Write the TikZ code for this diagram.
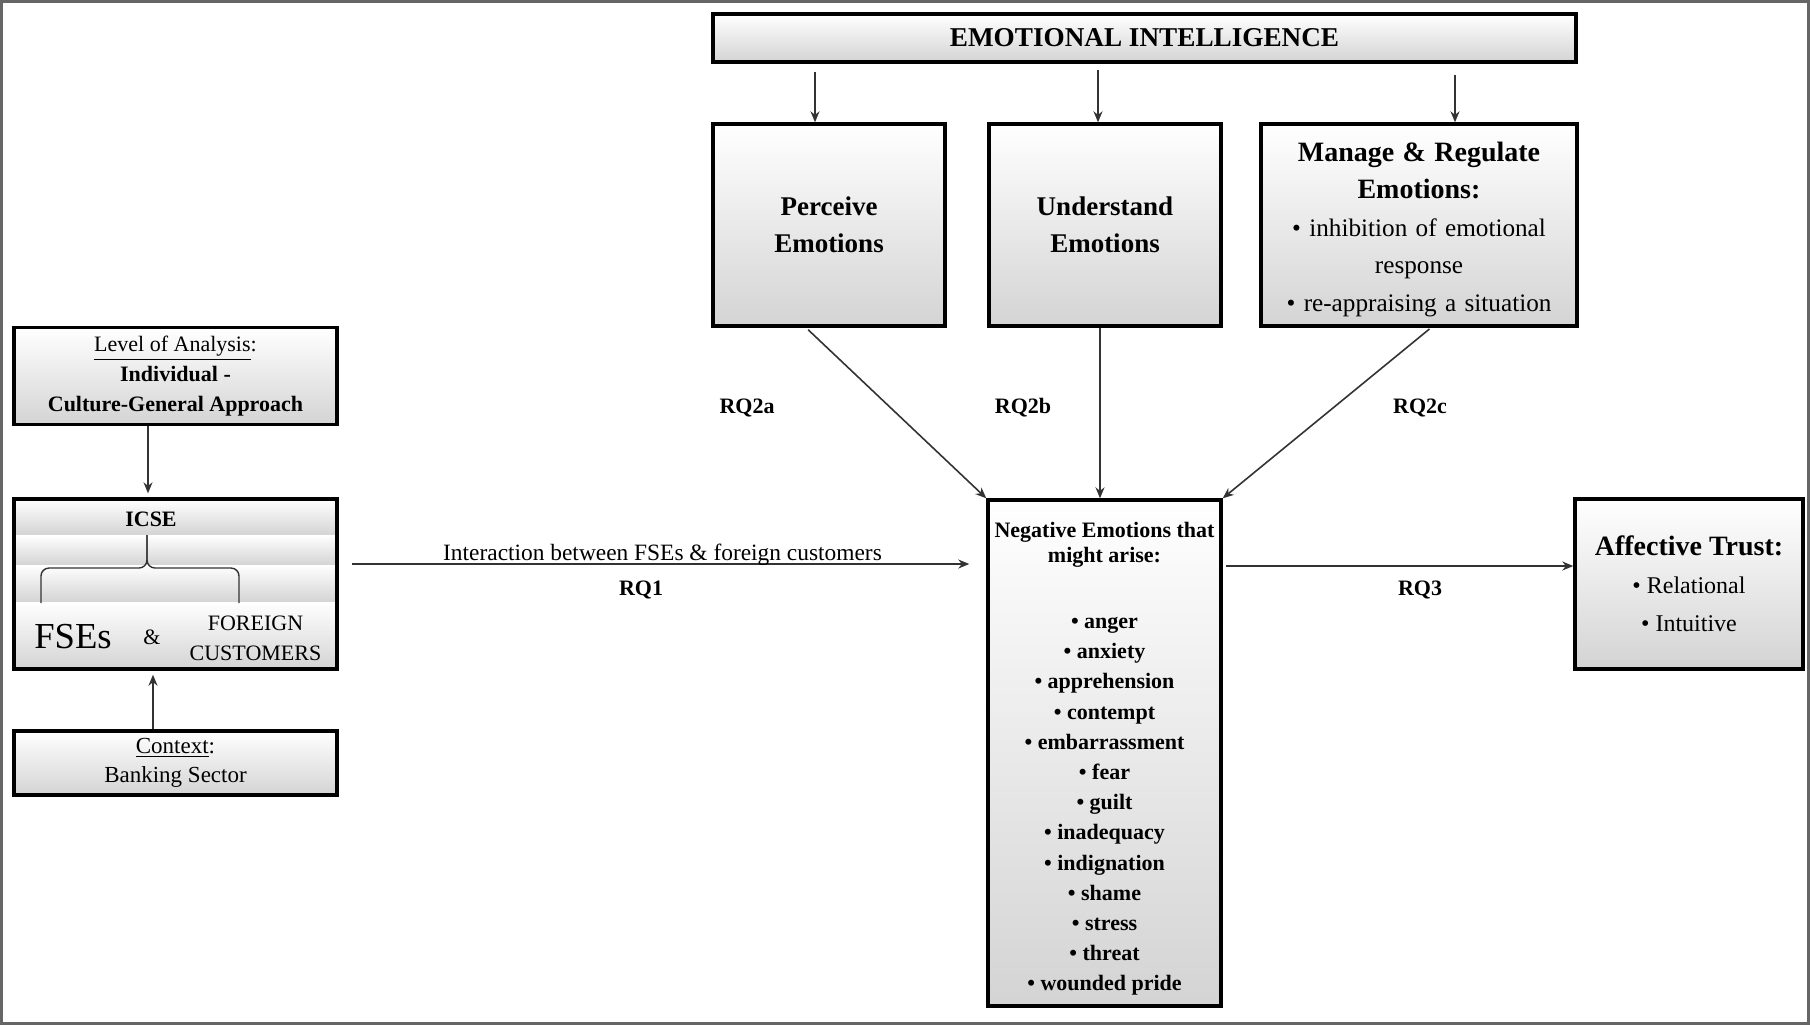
\documentclass[tikz,border=0pt]{standalone}
\usepackage{fontspec}
\setmainfont{Liberation Serif}
\usetikzlibrary{arrows.meta,positioning,calc}
\definecolor{figdark}{gray}{0.2}
\definecolor{figframe}{gray}{0.4}
\definecolor{figshade}{gray}{0.83}
\tikzset{
  box/.style={
    rectangle, draw=black, line width=1.7pt,
    top color=white, bottom color=figshade,
    align=center, inner sep=2pt
  },
  band/.style={top color=white, bottom color=figshade},
  rqtext/.style={font=\fontsize{11}{13}\selectfont\bfseries},
  arrow/.style={->, >={Stealth[length=5.5pt,width=4.5pt]}, line width=0.8pt, draw=figdark},
  bigarrow/.style={arrow, line width=1.3pt}
}

\begin{document}
\begin{tikzpicture}[x=1pt, y=-1pt]
  \useasboundingbox (0,0) rectangle (905,512.5);
  \draw[figframe, line width=1.5pt] (0.75,0.75) rectangle (904.25,511.75);

  % Emotional intelligence and its branches
  \node[box, minimum width=431.5pt, minimum height=24pt,
    font=\fontsize{13.6}{16}\selectfont\bfseries] (ei) at (572.25,19) {EMOTIONAL INTELLIGENCE};
  \node[box, minimum width=116pt, minimum height=101pt,
    font=\fontsize{13.5}{18.5}\selectfont\bfseries] (perceive) at (414.5,112.5) {Perceive\\Emotions};
  \node[box, minimum width=116pt, minimum height=101pt,
    font=\fontsize{13.5}{18.5}\selectfont\bfseries] (understand) at (552.5,112.5) {Understand\\Emotions};
  \node[box, minimum width=158pt, minimum height=101pt, text width=154pt,
    font=\fontsize{12.6}{18.75}\selectfont] (manage) at (709.5,112.5)
    {{\fontsize{14}{18.75}\selectfont\bfseries\rule{0pt}{14.1pt}Manage \& Regulate\\ Emotions:}\\
     \textbullet{} inhibition of emotional\\ response\\ \textbullet{} re-appraising a situation};

  % Left column
  \node[box, minimum width=161.5pt, minimum height=48.5pt,
    font=\fontsize{11}{15}\selectfont] (level) at (87.75,188)
    {\underline{Level of Analysis}:\\ \textbf{Individual -}\\ \textbf{Culture-General Approach}};
  \foreach \ya/\yb in {249.5/267.5, 267.5/282.5, 282.5/301, 301/334.5}
    \shade[band] (7,\ya) rectangle (168.5,\yb);
  \node[draw=black, line width=1.7pt, minimum width=161.5pt, minimum height=85pt] (icse) at (87.75,292) {};
  \node[rqtext] (icsetitle) at (75.5,259.5) {ICSE};
  \draw[figdark, line width=0.7pt, rounded corners=4pt] (20.5,301.5) |- (73.5,284) -- (73.5,267.5);
  \draw[figdark, line width=0.7pt, rounded corners=4pt] (119.5,301.5) |- (73.5,284) -- (73.5,267.5);
  \node[font=\fontsize{18.3}{20}\selectfont] (fses) at (36.5,318.5) {FSEs};
  \node[font=\fontsize{11}{13}\selectfont] (amp) at (76,318.5) {\&};
  \node[font=\fontsize{11}{15}\selectfont, align=center] (foreign) at (127.75,319) {FOREIGN\\CUSTOMERS};
  \node[box, minimum width=161.5pt, minimum height=32pt,
    font=\fontsize{11.5}{14.5}\selectfont] (context) at (87.75,381.5)
    {\underline{Context}:\\ Banking Sector};

  % Negative emotions and trust
  \node[box, minimum width=116.5pt, minimum height=253pt,
    font=\fontsize{11}{15.1}\selectfont\bfseries] (negative) at (552.25,376.5)
    {\rule{0pt}{13.3pt}Negative Emotions that\\[-2.5pt] might arise:\\[18pt]
     \textbullet{} anger\\ \textbullet{} anxiety\\ \textbullet{} apprehension\\ \textbullet{} contempt\\
     \textbullet{} embarrassment\\ \textbullet{} fear\\ \textbullet{} guilt\\ \textbullet{} inadequacy\\
     \textbullet{} indignation\\ \textbullet{} shame\\ \textbullet{} stress\\ \textbullet{} threat\\
     \textbullet{} wounded pride};
  \node[box, minimum width=114pt, minimum height=85pt,
    font=\fontsize{12}{19}\selectfont] (trust) at (844.5,292)
    {\textbf{\fontsize{14}{19}\selectfont Affective Trust:}\\ \textbullet{} Relational\\ \textbullet{} Intuitive};

  % Research question labels
  \node[rqtext] (rq1) at (320.5,295) {RQ1};
  \node[rqtext] (rq2a) at (373.5,204) {RQ2a};
  \node[rqtext] (rq2b) at (511.5,204) {RQ2b};
  \node[rqtext] (rq2c) at (710,204) {RQ2c};
  \node[rqtext] (rq3) at (710,295) {RQ3};

  % Connections
  \draw[arrow, shorten <=4pt] (ei.south -| 407.5,0) -- (perceive.north -| 407.5,0);
  \draw[arrow, shorten <=3pt] (ei.south -| 549,0) -- (understand.north -| 549,0);
  \draw[arrow, shorten <=5.5pt] (ei.south -| 727.5,0) -- (manage.north -| 727.5,0);
  \draw[arrow, shorten >=2pt] (level.south -| 74,0) -- (icse.north -| 74,0);
  \draw[arrow, shorten >=2pt] (context.north -| 76.5,0) -- (icse.south -| 76.5,0);
  \draw[bigarrow, shorten <=6.5pt, shorten >=8.5pt] (icse.east |- 0,282) -- (negative.west |- 0,282)
    node[midway, above, inner sep=0pt, yshift=-1.5pt, font=\fontsize{11.7}{13}\selectfont] (interlabel)
    {Interaction between FSEs \& foreign customers};
  \draw[bigarrow, shorten <=1.5pt] (negative.east |- 0,283) -- (trust.west |- 0,283);
  \draw[arrow, shorten <=1.5pt] ([xshift=-11.5pt]perceive.south) -- (negative.north west);
  \draw[arrow] (understand.south -| 550,0) -- (negative.north -| 550,0);
  \draw[arrow, shorten <=1pt] ([xshift=6pt]manage.south) -- (negative.north east);

\end{tikzpicture}
\end{document}
